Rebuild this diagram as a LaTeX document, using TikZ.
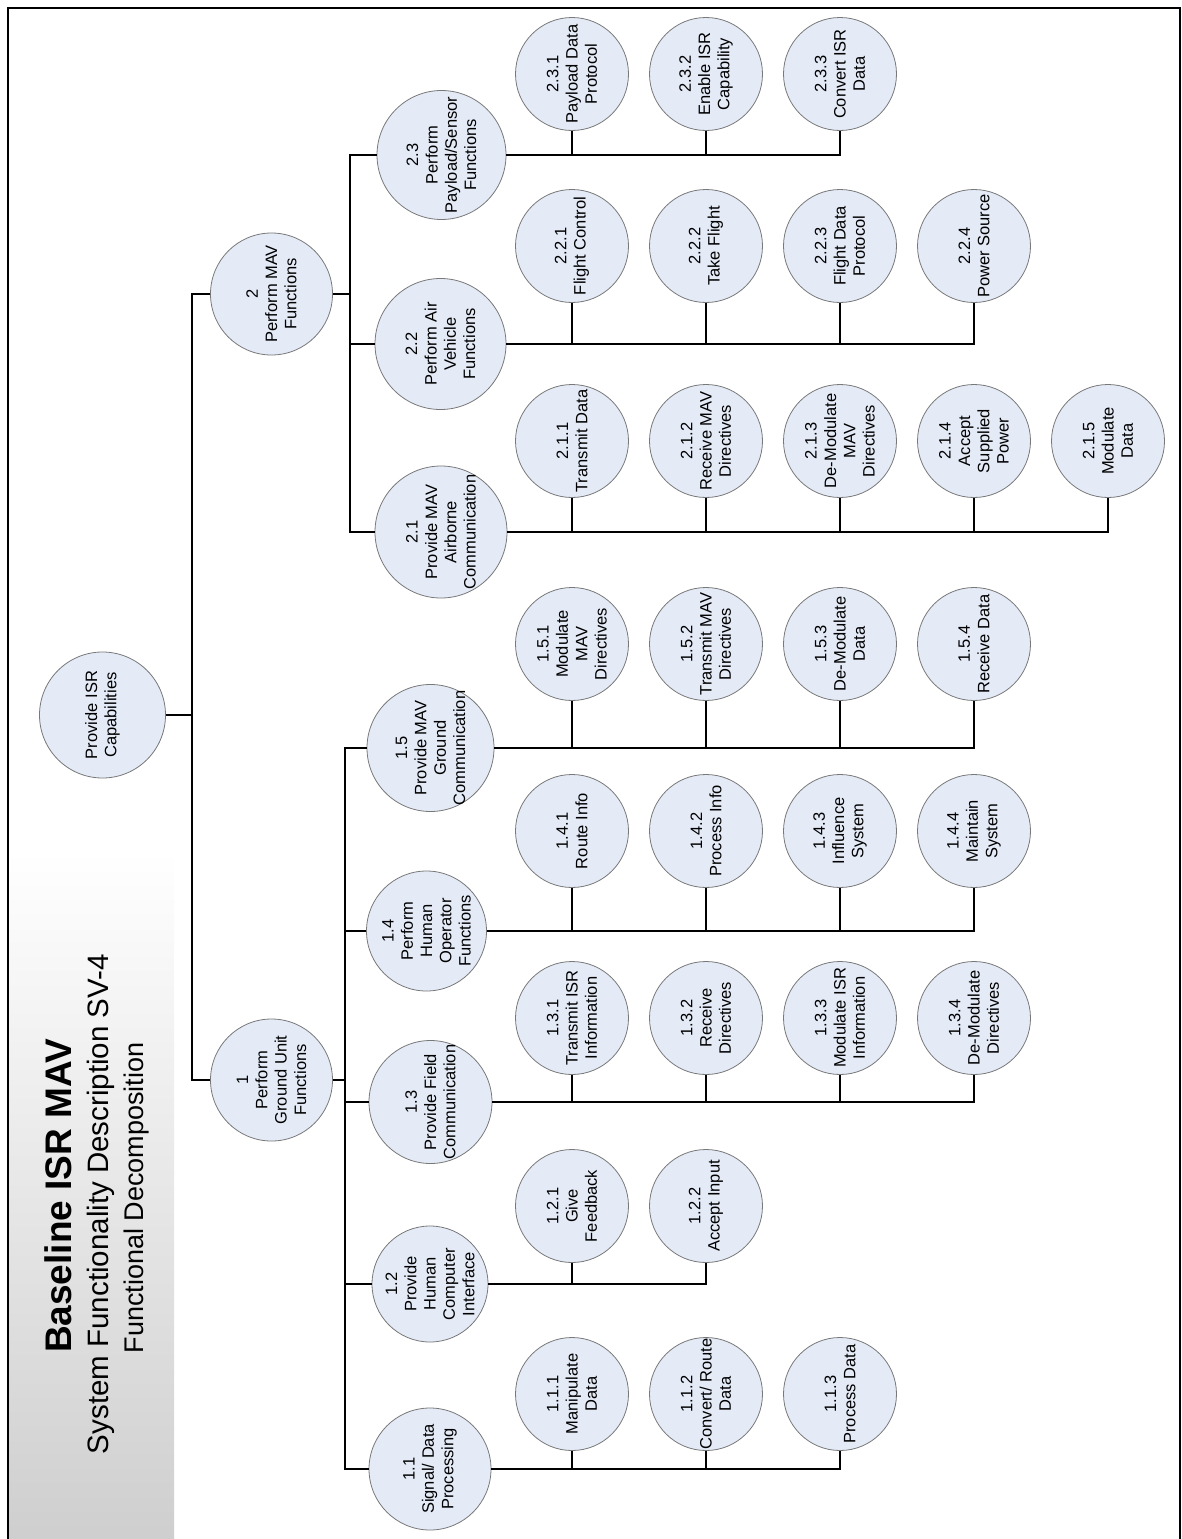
\documentclass[tikz,border=0pt]{standalone}
\usepackage{fontspec}
\setmainfont{Liberation Sans}
\usepackage{tikz}
\usetikzlibrary{positioning}
\definecolor{bubblefill}{RGB}{228,235,247}
\definecolor{bubbleline}{RGB}{120,120,120}

% circle with its rotated caption on top
\newcommand{\bubble}[5][lvthree]{%
  \node[#1] (#2) at (#3,#4) {};
  \node[txt] (#2t) at (#2) {#5};}

\begin{document}
\begin{tikzpicture}[
    x=1pt, y=-1pt,
    bubble/.style={circle, draw=bubbleline, fill=bubblefill, line width=0.8pt, inner sep=0pt},
    rootc/.style={bubble, minimum size=126pt},
    lvone/.style={bubble, minimum size=122pt},
    lvtwo/.style={bubble, minimum size=127pt},
    lvthree/.style={bubble, minimum size=113pt},
    txt/.style={rotate=90, align=center, inner sep=0pt, font=\fontsize{16.5}{19.3}\selectfont},
    conn/.style={line width=1.4pt, black},
]
\useasboundingbox (0,0) rectangle (1182,1539);

% --- Title band ---
\shade[top color=white, bottom color=gray!38] (9,850) rectangle (174,1539);
\draw[line width=2.5pt] (8,1545) -- (8,8) -- (1180,8) -- (1180,1545);
\node[rotate=90, font=\fontsize{37}{40}\selectfont\bfseries] (title) at (58,1196) {Baseline ISR MAV};
\node[rotate=90, font=\fontsize{29.5}{32}\selectfont] (subtitle) at (101,1204) {System Functionality Description SV-4};
\node[rotate=90, font=\fontsize{27}{32}\selectfont] (subtitle2) at (137,1198) {Functional Decomposition};

% --- Top levels ---
\bubble[rootc]{root}{102.5}{715}{Provide ISR\\Capabilities}
\bubble[lvone]{f2}{271.5}{294}{2\\Perform MAV\\Functions}
\bubble[lvone]{f1}{271.5}{1080}{1\\Perform\\Ground Unit\\Functions}

% --- Second level ---
\bubble[lvtwo, minimum size=129pt]{n23}{441.5}{155}{2.3\\Perform\\Payload/Sensor\\Functions}
\bubble[lvtwo, minimum size=131pt]{n22}{440.5}{344}{2.2\\Perform Air\\Vehicle\\Functions}
\bubble[lvtwo, minimum size=132pt]{n21}{441}{532}{2.1\\Provide MAV\\Airborne\\Communication}
\bubble[lvtwo]{n15}{430.5}{748}{1.5\\Provide MAV\\Ground\\Communication}
\bubble[lvtwo, minimum size=120pt]{n14}{426.5}{931}{1.4\\Perform\\Human\\Operator\\Functions}
\bubble[lvtwo, minimum size=123pt]{n13}{430.5}{1102}{1.3\\Provide Field\\Communication}
\bubble[lvtwo, minimum size=116pt]{n12}{430}{1284}{1.2\\Provide\\Human\\Computer\\Interface}
\bubble[lvtwo, minimum size=122pt]{n11}{430}{1469}{1.1\\Signal/ Data\\Processing}

% --- Third level: MAV ---
\bubble{n231}{572}{74}{2.3.1\\Payload Data\\Protocol}
\bubble{n232}{706}{74}{2.3.2\\Enable ISR\\Capability}
\bubble{n233}{840}{74}{2.3.3\\Convert ISR\\Data}
\bubble{n221}{572}{246}{2.2.1\\Flight Control}
\bubble{n222}{706}{246}{2.2.2\\Take Flight}
\bubble{n223}{840}{246}{2.2.3\\Flight Data\\Protocol}
\bubble{n224}{974}{246}{2.2.4\\Power Source}
\bubble{n211}{572}{441}{2.1.1\\Transmit Data}
\bubble{n212}{706}{441}{2.1.2\\Receive MAV\\Directives}
\bubble{n213}{840}{441}{2.1.3\\De-Modulate\\MAV\\Directives}
\bubble{n214}{974}{441}{2.1.4\\Accept\\Supplied\\Power}
\bubble{n215}{1108}{441}{2.1.5\\Modulate\\Data}

% --- Third level: ground unit ---
\bubble{n151}{572}{644}{1.5.1\\Modulate\\MAV\\Directives}
\bubble{n152}{706}{644}{1.5.2\\Transmit MAV\\Directives}
\bubble{n153}{840}{644}{1.5.3\\De-Modulate\\Data}
\bubble{n154}{974}{644}{1.5.4\\Receive Data}
\bubble{n141}{572}{831}{1.4.1\\Route Info}
\bubble{n142}{706}{831}{1.4.2\\Process Info}
\bubble{n143}{840}{831}{1.4.3\\Influence\\System}
\bubble{n144}{974}{831}{1.4.4\\Maintain\\System}
\bubble{n131}{572}{1018}{1.3.1\\Transmit ISR\\Information}
\bubble{n132}{706}{1018}{1.3.2\\Receive\\Directives}
\bubble{n133}{840}{1018}{1.3.3\\Modulate ISR\\Information}
\bubble{n134}{974}{1018}{1.3.4\\De-Modulate\\Directives}
\bubble{n121}{572}{1206}{1.2.1\\Give\\Feedback}
\bubble{n122}{706}{1206}{1.2.2\\Accept Input}
\bubble{n111}{572}{1394}{1.1.1\\Manipulate\\Data}
\bubble{n112}{706}{1394}{1.1.2\\Convert/ Route\\Data}
\bubble{n113}{840}{1394}{1.1.3\\Process Data}

% --- Connectors: trunk ---
\coordinate (j0) at (192,715);
\coordinate (j2) at (350,294);
\coordinate (j1) at (345,1080);
\draw[conn] (root.east) -- (j0);
\draw[conn] (f2.west) -| (j0);
\draw[conn] (f1.west) -| (j0);

\draw[conn] (f2.east) -- (j2);
\draw[conn] (n23.west) -| (j2);
\draw[conn] (n22.west) -| (j2);
\draw[conn] (n21.west) -| (j2);

\draw[conn] (f1.east) -- (j1);
\draw[conn] (n15.west) -| (j1);
\draw[conn] (n14.west) -| (j1);
\draw[conn] (n13.west) -| (j1);
\draw[conn] (n12.west) -| (j1);
\draw[conn] (n11.west) -| (j1);

% --- Connectors: leaves ---
\draw[conn] (n23.east) -| (n233.south);
\draw[conn] (n231.south) -- (n231.south |- n23.east);
\draw[conn] (n232.south) -- (n232.south |- n23.east);

\draw[conn] (n22.east) -| (n224.south);
\draw[conn] (n221.south) -- (n221.south |- n22.east);
\draw[conn] (n222.south) -- (n222.south |- n22.east);
\draw[conn] (n223.south) -- (n223.south |- n22.east);

\draw[conn] (n21.east) -| (n215.south);
\draw[conn] (n211.south) -- (n211.south |- n21.east);
\draw[conn] (n212.south) -- (n212.south |- n21.east);
\draw[conn] (n213.south) -- (n213.south |- n21.east);
\draw[conn] (n214.south) -- (n214.south |- n21.east);

\draw[conn] (n15.east) -| (n154.south);
\draw[conn] (n151.south) -- (n151.south |- n15.east);
\draw[conn] (n152.south) -- (n152.south |- n15.east);
\draw[conn] (n153.south) -- (n153.south |- n15.east);

\draw[conn] (n14.east) -| (n144.south);
\draw[conn] (n141.south) -- (n141.south |- n14.east);
\draw[conn] (n142.south) -- (n142.south |- n14.east);
\draw[conn] (n143.south) -- (n143.south |- n14.east);

\draw[conn] (n13.east) -| (n134.south);
\draw[conn] (n131.south) -- (n131.south |- n13.east);
\draw[conn] (n132.south) -- (n132.south |- n13.east);
\draw[conn] (n133.south) -- (n133.south |- n13.east);

\draw[conn] (n12.east) -| (n122.south);
\draw[conn] (n121.south) -- (n121.south |- n12.east);

\draw[conn] (n11.east) -| (n113.south);
\draw[conn] (n111.south) -- (n111.south |- n11.east);
\draw[conn] (n112.south) -- (n112.south |- n11.east);

\end{tikzpicture}
\end{document}
